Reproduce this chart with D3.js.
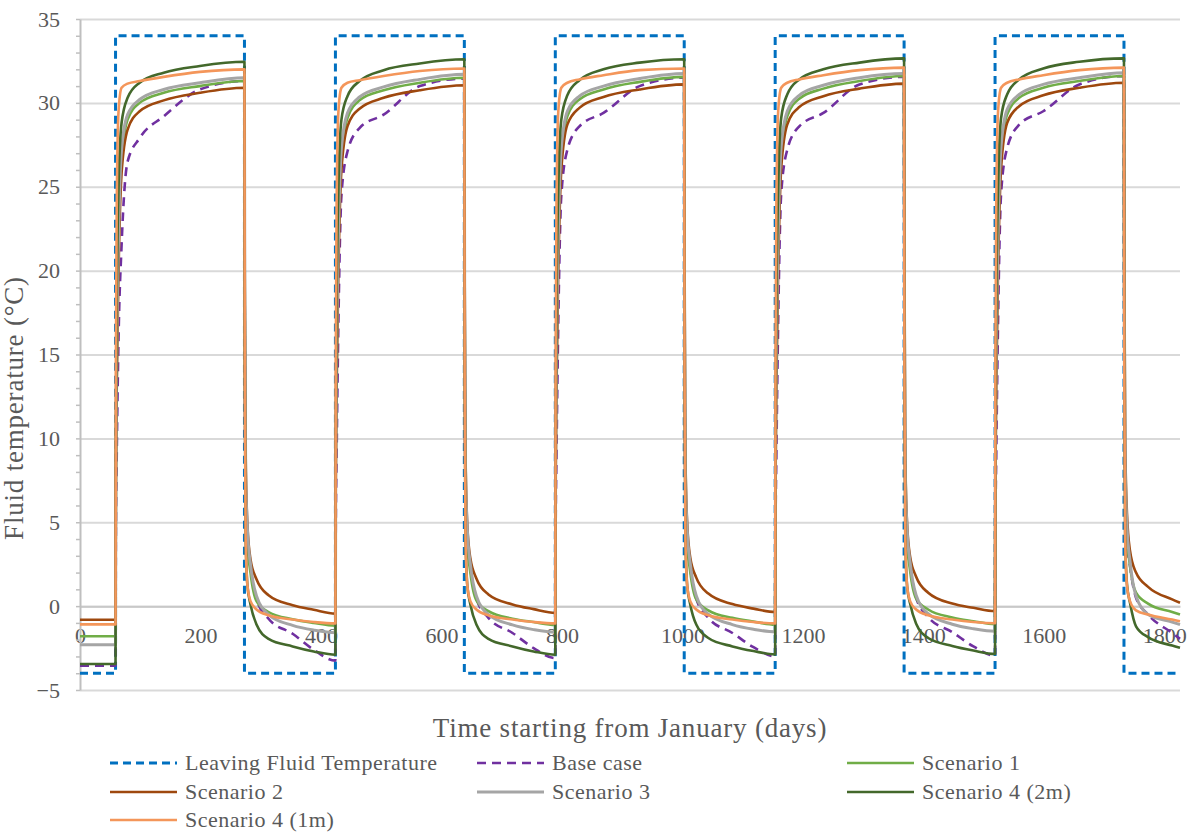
<!DOCTYPE html>
<html>
<head>
<meta charset="utf-8">
<script src="https://cdn.jsdelivr.net/npm/d3@7"></script>
<style>
  body { margin: 0; background: #fff; }
</style>
</head>
<body>
<svg id="chart" width="1196" height="832"></svg>
<script>
"use strict";

// axis ticks
var xTicks = [0, 200, 400, 600, 800, 1000, 1200, 1400, 1600, 1800];
var yTicks = [-5, 0, 5, 10, 15, 20, 25, 30, 35];
var lastDay = 1826;

// leaving fluid temperature: switches between the two levels on these days
var switchDays = [59, 273, 424, 638, 789, 1003, 1154, 1368, 1519, 1733];
var lftLevels = [-4, 34];

// sample days (after each switch) used by the simulated curves
var heatOffsets = [0.5, 2, 5, 10, 20, 40, 80, 140, 214];
var coolOffsets = [0.5, 2, 5, 10, 20, 40, 80, 115, 151];

// Base case
var baseStart = -3.55;
var baseHeat = [
    [4, 9, 16, 21.5, 26.5, 27.9, 29.2, 30.8, 31.3],
    [4, 9, 17, 24.5, 27.1, 28.5, 29.3, 31.0, 31.45],
    [4, 9, 17, 24.5, 27.2, 28.6, 29.4, 31.0, 31.5],
    [4, 9, 17, 24.6, 27.2, 28.6, 29.4, 31.1, 31.55],
    [4, 9, 17, 24.6, 27.3, 28.7, 29.5, 31.1, 31.6]
];
var baseCool = [
    [17, 7, 4, 2.3, 0.4, -0.75, -1.65, -2.6, -3.25],
    [17, 7, 4, 2.3, 0.45, -0.7, -1.6, -2.5, -3.1],
    [17, 7, 4, 2.3, 0.45, -0.7, -1.6, -2.45, -3.0],
    [17, 7, 4, 2.4, 0.5, -0.65, -1.55, -2.4, -2.95],
    [17, 7, 4, 2.4, 0.5, -0.5, -1.6, -1.95]
];

// Scenario 1
var s1Start = -1.8;
var s1Heat = [
    [8, 15, 21.5, 26.7, 29.0, 30.0, 30.6, 31.0, 31.3],
    [8, 15, 21.5, 26.8, 29.1, 30.15, 30.75, 31.2, 31.5],
    [8, 15, 21.5, 26.8, 29.2, 30.2, 30.8, 31.25, 31.55],
    [8, 15, 21.5, 26.9, 29.2, 30.25, 30.85, 31.3, 31.6],
    [8, 15, 21.5, 26.9, 29.3, 30.3, 30.9, 31.3, 31.6]
];
var s1Cool = [
    [18, 7, 3.8, 2.0, 0.3, -0.35, -0.78, -1.0, -1.16],
    [18, 7, 3.8, 2.0, 0.35, -0.3, -0.75, -0.95, -1.12],
    [18, 7, 3.8, 2.05, 0.4, -0.25, -0.7, -0.92, -1.1],
    [18, 7, 3.9, 2.1, 0.45, -0.2, -0.68, -0.9, -1.08],
    [18, 7.5, 4.2, 2.4, 0.8, 0.15, -0.35, -0.5]
];

// Scenario 2
var s2Start = -0.81;
var s2Heat = [
    [7, 13, 20, 25.8, 28.4, 29.5, 30.15, 30.6, 30.9],
    [7, 13, 20, 26, 28.6, 29.65, 30.3, 30.75, 31.05],
    [7, 13, 20, 26, 28.7, 29.7, 30.35, 30.8, 31.1],
    [7, 13, 20, 26.1, 28.7, 29.75, 30.4, 30.85, 31.15],
    [7, 13, 20, 26.1, 28.8, 29.8, 30.45, 30.9, 31.2]
];
var s2Cool = [
    [20, 9, 4.8, 2.8, 1.6, 0.65, 0.05, -0.22, -0.45],
    [20, 9, 4.8, 2.85, 1.65, 0.7, 0.1, -0.18, -0.4],
    [20, 9, 4.9, 2.9, 1.7, 0.75, 0.12, -0.15, -0.35],
    [20, 9, 4.9, 2.95, 1.75, 0.8, 0.15, -0.1, -0.3],
    [20, 10, 5.5, 3.3, 2.0, 1.15, 0.4, 0.2]
];

// Scenario 3
var s3Start = -2.3;
var s3Heat = [
    [8, 15, 22, 27.2, 29.3, 30.2, 30.8, 31.2, 31.5],
    [8, 15, 22, 27.3, 29.4, 30.35, 30.95, 31.4, 31.7],
    [8, 15, 22, 27.3, 29.5, 30.4, 31.0, 31.45, 31.75],
    [8, 15, 22, 27.4, 29.5, 30.45, 31.05, 31.5, 31.75],
    [8, 15, 22, 27.4, 29.6, 30.5, 31.1, 31.5, 31.8]
];
var s3Cool = [
    [19, 8, 4.5, 2.5, 0.6, -0.5, -1.15, -1.43, -1.58],
    [19, 8, 4.5, 2.5, 0.6, -0.5, -1.12, -1.4, -1.55],
    [19, 8, 4.5, 2.55, 0.62, -0.48, -1.1, -1.38, -1.53],
    [19, 8, 4.6, 2.6, 0.65, -0.45, -1.08, -1.35, -1.5],
    [19, 8.5, 4.8, 2.7, 0.6, -0.5, -0.95, -1.1]
];

// Scenario 4 (2m)
var s42Start = -3.45;
var s42Heat = [
    [10, 18, 25, 28.8, 30.3, 31.2, 31.8, 32.2, 32.45],
    [10, 18, 25, 29, 30.4, 31.3, 31.95, 32.35, 32.6],
    [10, 18, 25, 29, 30.45, 31.35, 32.0, 32.4, 32.6],
    [10, 18, 25, 29.1, 30.5, 31.4, 32.0, 32.4, 32.65],
    [10, 18, 25, 29.1, 30.5, 31.4, 32.05, 32.45, 32.65]
];
var s42Cool = [
    [14, 4, 1.2, 0.1, -1.1, -1.95, -2.4, -2.7, -2.9],
    [14, 4, 1.2, 0.1, -1.1, -1.95, -2.4, -2.7, -2.9],
    [14, 4, 1.2, 0.1, -1.1, -1.9, -2.4, -2.68, -2.88],
    [14, 4, 1.2, 0.15, -1.05, -1.9, -2.38, -2.65, -2.85],
    [14, 4, 1.3, 0.2, -1.2, -1.85, -2.35, -2.48]
];

// Scenario 4 (1m)
var s41Start = -1.09;
var s41Heat = [
    [14, 24, 29.5, 30.9, 31.15, 31.3, 31.55, 31.85, 32.0],
    [14, 24, 29.5, 30.9, 31.2, 31.35, 31.6, 31.9, 32.05],
    [14, 24, 29.5, 30.9, 31.2, 31.4, 31.65, 31.95, 32.05],
    [14, 24, 29.5, 30.9, 31.2, 31.4, 31.65, 31.95, 32.1],
    [14, 24, 29.5, 30.9, 31.2, 31.4, 31.65, 31.95, 32.1]
];
var s41Cool = [
    [14, 4, 1.2, 0.3, -0.2, -0.55, -0.8, -0.95, -1.03],
    [14, 4, 1.2, 0.3, -0.2, -0.55, -0.8, -0.95, -1.03],
    [14, 4, 1.2, 0.3, -0.2, -0.55, -0.8, -0.95, -1.03],
    [14, 4, 1.2, 0.3, -0.2, -0.55, -0.8, -0.95, -1.02],
    [14, 4, 1.2, 0.3, -0.25, -0.5, -0.8, -0.9]
];

var seriesNames = ["Leaving Fluid Temperature", "Base case", "Scenario 1", "Scenario 2",
                   "Scenario 3", "Scenario 4 (2m)", "Scenario 4 (1m)"];

// styles, in drawing order
var seriesStyles = [
    { color: "#0070C0", width: 3,   dash: "8,5" },
    { color: "#7030A0", width: 2.6, dash: "9,6" },
    { color: "#70AD47", width: 2.6, dash: null },
    { color: "#9E480E", width: 2.6, dash: null },
    { color: "#A5A5A5", width: 3,   dash: null },
    { color: "#43682B", width: 2.6, dash: null },
    { color: "#F4965A", width: 2.6, dash: null }
];

var FONT = "'Liberation Serif', 'DejaVu Serif', serif";
var TEXT_COLOR = "#595959";

// turn start value + yearly heat / cool samples into [day, value] points
function buildCurve(start, heat, cool) {
    var pts = [[0, start], [switchDays[0], start]];
    for (var k = 0; k < heat.length; k++) {
        var hDay = switchDays[2 * k];
        var cDay = switchDays[2 * k + 1];
        heat[k].forEach(function(v, i) { pts.push([hDay + heatOffsets[i], v]); });
        cool[k].forEach(function(v, i) {
            var d = Math.min(cDay + coolOffsets[i], lastDay);
            if (k === cool.length - 1 && i === cool[k].length - 1) d = lastDay;
            pts.push([d, v]);
        });
    }
    return pts;
}

function buildLft() {
    var pts = [[0, lftLevels[0]]];
    switchDays.forEach(function(d, i) { pts.push([d, lftLevels[(i + 1) % 2]]); });
    pts.push([lastDay, lftLevels[0]]);
    return pts;
}

var curves = [
    buildLft(),
    buildCurve(baseStart, baseHeat, baseCool),
    buildCurve(s1Start, s1Heat, s1Cool),
    buildCurve(s2Start, s2Heat, s2Cool),
    buildCurve(s3Start, s3Heat, s3Cool),
    buildCurve(s42Start, s42Heat, s42Cool),
    buildCurve(s41Start, s41Heat, s41Cool)
];

var svg = d3.select("#chart");
var plotLeft = 80, plotRight = 1180, plotTop = 19, plotBottom = 690;

var x = d3.scaleLinear().domain([0, lastDay]).range([plotLeft, plotRight]);
var y = d3.scaleLinear().domain([-5, 35]).range([plotBottom, plotTop]);

function styleText(sel, size) {
    sel.style("font-family", FONT)
        .style("font-size", size + "px")
        .style("fill", TEXT_COLOR);
}

// horizontal gridlines
svg.append("g")
    .attr("transform", "translate(" + plotLeft + ",0)")
    .call(d3.axisLeft(y).tickValues(yTicks).tickSize(-(plotRight - plotLeft)).tickFormat(""))
    .call(function(g) {
        g.select(".domain").remove();
        g.selectAll("line").attr("stroke", "#d9d9d9").attr("stroke-width", 2);
    });

// x axis crossing at zero
svg.append("g")
    .attr("transform", "translate(0," + y(0) + ")")
    .call(d3.axisBottom(x).tickValues(xTicks).tickFormat(d3.format("d")).tickSize(0).tickPadding(21))
    .call(function(g) {
        g.select(".domain").attr("stroke", "#c8c8c8").attr("stroke-width", 2);
        styleText(g.selectAll("text"), 22);
    });

// y axis line with a tick every degree
svg.append("g")
    .attr("transform", "translate(" + plotLeft + ",0)")
    .call(d3.axisLeft(y).tickValues(d3.range(-5, 36)).tickSize(4).tickSizeOuter(0).tickFormat(""))
    .call(function(g) {
        g.select(".domain").attr("stroke", "#bfbfbf").attr("stroke-width", 2);
        g.selectAll("line").attr("stroke", "#bfbfbf").attr("stroke-width", 1.5);
    });

// y labels
svg.append("g")
    .attr("transform", "translate(" + plotLeft + ",0)")
    .call(d3.axisLeft(y).tickValues(yTicks).tickSize(0).tickPadding(20))
    .call(function(g) {
        g.select(".domain").remove();
        styleText(g.selectAll("text"), 22);
    });

// the series
var line = d3.line()
    .x(function(d) { return x(d[0]); })
    .y(function(d) { return y(d[1]); });

curves.forEach(function(pts, i) {
    var st = seriesStyles[i];
    line.curve(i === 0 ? d3.curveStepAfter : d3.curveMonotoneX);
    svg.append("path")
        .datum(pts)
        .attr("fill", "none")
        .attr("stroke", st.color)
        .attr("stroke-width", st.width)
        .attr("stroke-dasharray", st.dash)
        .attr("stroke-linejoin", "round")
        .attr("d", line(pts));
});

// axis titles
svg.append("text")
    .attr("x", (plotLeft + plotRight) / 2)
    .attr("y", 737)
    .attr("text-anchor", "middle")
    .attr("letter-spacing", 0.8)
    .text("Time starting from January (days)")
    .call(styleText, 27);

svg.append("text")
    .attr("transform", "translate(23,408) rotate(-90)")
    .attr("text-anchor", "middle")
    .attr("letter-spacing", 0.8)
    .text("Fluid temperature (\u00B0C)")
    .call(styleText, 27);

// legend, three columns
var legendCols = [110, 477, 847];
var legendRows = [763, 792, 820];

var legend = svg.append("g")
    .selectAll("g")
    .data(seriesNames)
    .enter().append("g")
    .attr("transform", function(d, i) {
        return "translate(" + legendCols[i % 3] + "," + legendRows[Math.floor(i / 3)] + ")";
    });

legend.append("line")
    .attr("x1", 0).attr("x2", 67)
    .attr("stroke", function(d, i) { return seriesStyles[i].color; })
    .attr("stroke-width", function(d, i) { return seriesStyles[i].width; })
    .attr("stroke-dasharray", function(d, i) { return seriesStyles[i].dash; });

legend.append("text")
    .attr("x", 75)
    .attr("dy", "0.33em")
    .attr("letter-spacing", 0.5)
    .text(function(d) { return d; })
    .call(styleText, 22);
</script>
</body>
</html>
